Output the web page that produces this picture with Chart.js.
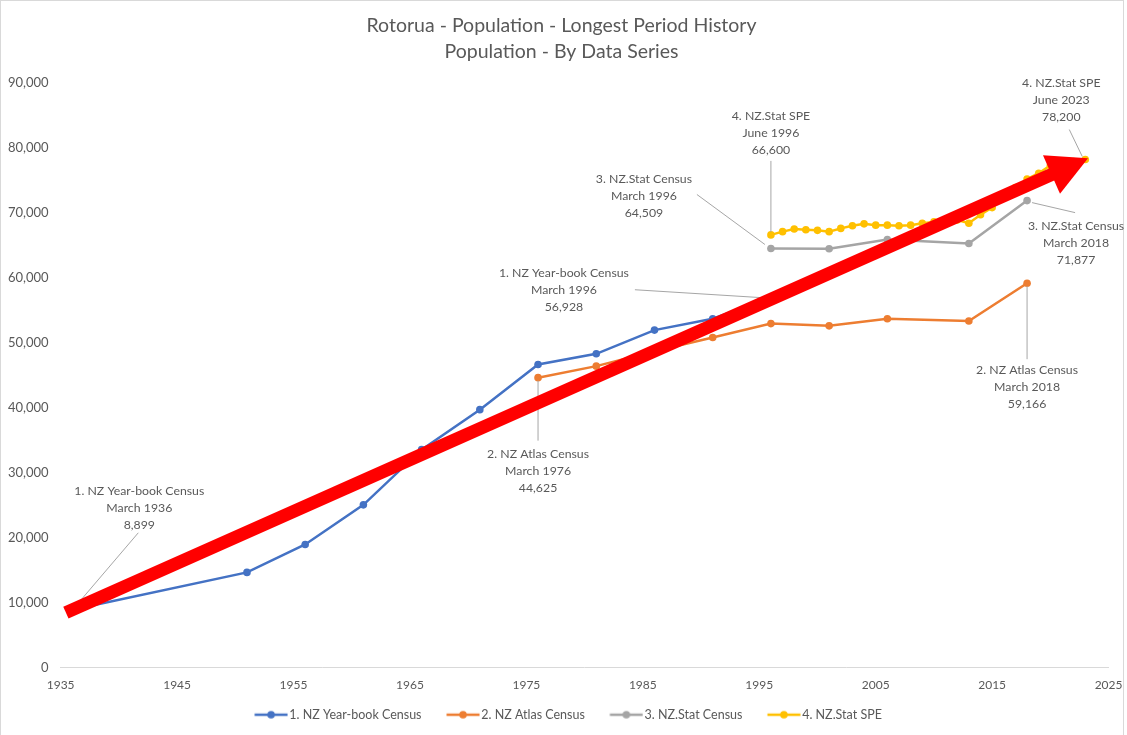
<!DOCTYPE html>
<html>
<head>
<meta charset="utf-8">
<script src="https://cdn.jsdelivr.net/npm/chart.js@4/dist/chart.umd.min.js"></script>
<style>
  html, body { margin: 0; padding: 0; background: #fff; }
  #wrap { width: 1127px; height: 735px; }
</style>
</head>
<body>
<div id="wrap"><canvas id="myChart" width="1127" height="735"></canvas></div>
<script>
// --- data ---
const yearbookYears = [1936, 1951, 1956, 1961, 1966, 1971, 1976, 1981, 1986, 1991, 1996];
const yearbookPop = [8899, 14650, 18950, 25050, 33550, 39700, 46650, 48300, 51950, 53700, 56928];

const atlasYears = [1976, 1981, 1986, 1991, 1996, 2001, 2006, 2013, 2018];
const atlasPop = [44625, 46400, 48700, 50800, 52950, 52600, 53700, 53350, 59166];

const statCensusYears = [1996, 2001, 2006, 2013, 2018];
const statCensusPop = [64509, 64470, 65900, 65280, 71877];

const speYears = [1996, 1997, 1998, 1999, 2000, 2001, 2002, 2003, 2004, 2005, 2006, 2007, 2008, 2009,
  2010, 2011, 2012, 2013, 2014, 2015, 2016, 2017, 2018, 2019, 2020, 2021, 2022, 2023];
const spePop = [66600, 67100, 67500, 67400, 67300, 67100, 67600, 68000, 68300, 68100, 68100, 68000, 68100, 68400,
  68600, 68800, 68900, 68400, 69700, 70800, 72600, 73900, 75200, 76100, 77300, 77600, 77900, 78200];

const seriesNames = ['1. NZ Year-book Census', '2. NZ Atlas Census', '3. NZ.Stat Census', '4. NZ.Stat SPE'];
const seriesColors = ['#4472C4', '#ED7D31', '#A5A5A5', '#FFC000'];

const xTickMin = 1935, xTickMax = 2025, xTickStep = 10;
const yTickMin = 0, yTickMax = 90000, yTickStep = 10000;

// callouts: [series index, point index, text lines]
const notes = [
  [0, 0, ['1. NZ Year-book Census', 'March 1936', '8,899']],
  [0, 10, ['1. NZ Year-book Census', 'March 1996', '56,928']],
  [1, 0, ['2. NZ Atlas Census', 'March 1976', '44,625']],
  [2, 0, ['3. NZ.Stat Census', 'March 1996', '64,509']],
  [3, 0, ['4. NZ.Stat SPE', 'June 1996', '66,600']],
  [3, 27, ['4. NZ.Stat SPE', 'June 2023', '78,200']],
  [2, 4, ['3. NZ.Stat Census', 'March 2018', '71,877']],
  [1, 8, ['2. NZ Atlas Census', 'March 2018', '59,166']]
];
// pixel offsets from the point: text centre (tx, ty), leader start (ax, ay), leader end (bx, by)
const noteLayout = [
  { tx: 67, ty: -119, ax: 66, ay: -77, bx: 2, by: -2 },
  { tx: -207, ty: -25, ax: -136, ay: -8, bx: -8, by: 0 },
  { tx: 0, ty: 76, ax: 0, ay: 63, bx: 0, by: 3 },
  { tx: -127, ty: -69, ax: -74, ay: -54, bx: -6, by: -4 },
  { tx: 0, ty: -119, ax: 0, ay: -74, bx: 0, by: -3 },
  { tx: -24, ty: -76, ax: -16, ay: -30, bx: -3, by: -3 },
  { tx: 49, ty: 25, ax: 48, ay: 12, bx: 5, by: 2 },
  { tx: 0, ty: 87, ax: 0, ay: 76, bx: 0, by: 3 }
];

const allYears = [yearbookYears, atlasYears, statCensusYears, speYears];
const allPop = [yearbookPop, atlasPop, statCensusPop, spePop];

const font = 'Lato, "Open Sans", sans-serif';
const textGrey = '#595959';

// legend swatch: line with a round marker, drawn into a canvas used as pointStyle
function legendIcon(color) {
  const c = document.createElement('canvas');
  c.width = 52; c.height = 10;
  const g = c.getContext('2d');
  g.strokeStyle = color; g.lineWidth = 2.5;
  g.beginPath(); g.moveTo(18.5, 5); g.lineTo(51.5, 5); g.stroke();
  g.fillStyle = color;
  g.beginPath(); g.arc(35, 5, 3.8, 0, Math.PI * 2); g.fill();
  return c;
}

const datasets = seriesNames.map((name, i) => ({
  label: name,
  data: allYears[i].map((yr, j) => ({ x: yr, y: allPop[i][j] })),
  borderColor: seriesColors[i],
  backgroundColor: seriesColors[i],
  borderWidth: 2.5,
  pointRadius: 3.8,
  pointHoverRadius: 3.8,
  pointBorderWidth: 0,
  tension: 0
}));

const calloutPlugin = {
  id: 'callouts',
  afterDatasetsDraw(chart) {
    const { ctx } = chart;
    const x = chart.scales.x, y = chart.scales.y;
    ctx.save();
    ctx.font = '12.3px ' + font;
    ctx.textAlign = 'center';
    ctx.textBaseline = 'middle';
    notes.forEach((n, k) => {
      const px = x.getPixelForValue(allYears[n[0]][n[1]]);
      const py = y.getPixelForValue(allPop[n[0]][n[1]]);
      const l = noteLayout[k];
      ctx.strokeStyle = '#A6A6A6';
      ctx.lineWidth = 1;
      ctx.beginPath();
      ctx.moveTo(px + l.ax, py + l.ay);
      ctx.lineTo(px + l.bx, py + l.by);
      ctx.stroke();
      ctx.fillStyle = textGrey;
      n[2].forEach((t, i) => ctx.fillText(t, px + l.tx, py + l.ty + i * 17));
    });

    // red trend arrow: first year-book point to last SPE point
    const x0 = x.getPixelForValue(yearbookYears[0]), y0 = y.getPixelForValue(yearbookPop[0]);
    const x1 = x.getPixelForValue(speYears[speYears.length - 1]), y1 = y.getPixelForValue(spePop[spePop.length - 1]);
    const len = Math.hypot(x1 - x0, y1 - y0);
    const ux = (x1 - x0) / len, uy = (y1 - y0) / len;
    const tipX = x1 + ux * 3, tipY = y1 + uy * 3;
    const headLen = 40, headHalf = 21;
    const bx = tipX - ux * headLen, by = tipY - uy * headLen;
    ctx.strokeStyle = '#FF0000';
    ctx.fillStyle = '#FF0000';
    ctx.lineWidth = 13;
    ctx.lineCap = 'butt';
    ctx.beginPath();
    ctx.moveTo(x0 - ux * 7, y0 - uy * 7);
    ctx.lineTo(bx + ux * 2, by + uy * 2);
    ctx.stroke();
    ctx.beginPath();
    ctx.moveTo(tipX, tipY);
    ctx.lineTo(bx - uy * headHalf, by + ux * headHalf);
    ctx.lineTo(bx + uy * headHalf, by - ux * headHalf);
    ctx.closePath();
    ctx.fill();
    ctx.restore();
  },
  beforeDraw(chart) {
    const { ctx, width, height } = chart;
    ctx.save();
    ctx.fillStyle = '#fff';
    ctx.fillRect(0, 0, width, height);
    ctx.strokeStyle = '#D9D9D9';
    ctx.lineWidth = 1;
    ctx.strokeRect(0.5, 0.5, 1123, height + 2);
    ctx.restore();
  }
};

const icons = seriesColors.map(legendIcon);

new Chart(document.getElementById('myChart'), {
  type: 'line',
  data: { datasets },
  plugins: [calloutPlugin],
  options: {
    responsive: false,
    animation: false,
    layout: { padding: { left: -4, right: 0, top: 0, bottom: 4 } },
    scales: {
      x: {
        type: 'linear',
        min: xTickMin,
        max: xTickMax,
        grid: { display: false, drawTicks: true, tickLength: 6 },
        border: { display: true, color: '#D9D9D9', width: 1 },
        ticks: {
          stepSize: xTickStep,
          padding: 4.5,
          color: textGrey,
          font: { family: font, size: 12 },
          callback: v => String(v)
        }
      },
      y: {
        min: yTickMin,
        max: yTickMax,
        grid: { display: false, drawTicks: false },
        border: { display: false },
        ticks: {
          stepSize: yTickStep,
          padding: 12,
          color: textGrey,
          font: { family: font, size: 13 },
          callback: v => v.toLocaleString('en-US')
        }
      }
    },
    plugins: {
      title: {
        display: true,
        text: ['Rotorua - Population - Longest Period History', 'Population - By Data Series'],
        color: textGrey,
        font: { family: font, size: 19.5, weight: 'normal', lineHeight: 1.33 },
        padding: { top: 13, bottom: 18 }
      },
      legend: {
        position: 'bottom',
        labels: {
          usePointStyle: true,
          pointStyleWidth: 42,
          padding: 11.5,
          color: textGrey,
          font: { family: font, size: 12.5 },
          generateLabels: chart => chart.data.datasets.map((ds, i) => ({
            text: ds.label,
            pointStyle: icons[i],
            fontColor: textGrey,
            datasetIndex: i,
            hidden: false,
            lineWidth: 0,
            fillStyle: ds.borderColor,
            strokeStyle: ds.borderColor
          }))
        }
      },
      tooltip: { enabled: false }
    }
  }
});
</script>
</body>
</html>
